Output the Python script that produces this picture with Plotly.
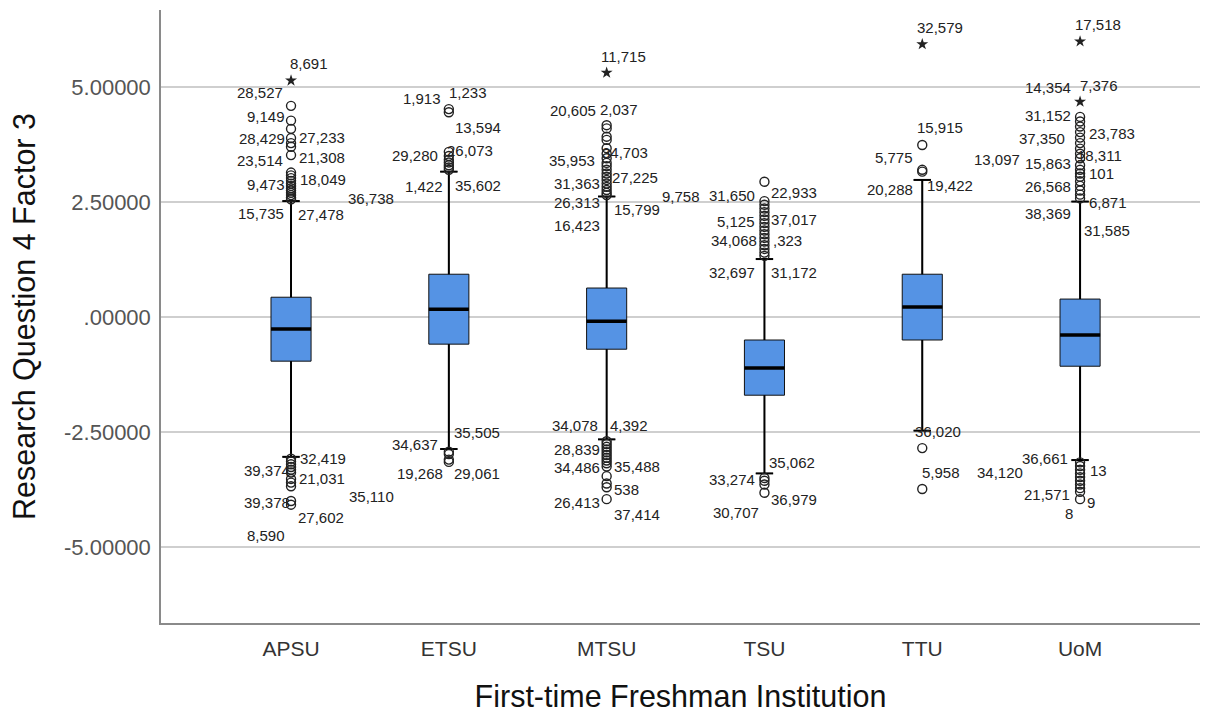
import plotly.graph_objects as go

# ---- data -------------------------------------------------------------
categories = ["APSU", "ETSU", "MTSU", "TSU", "TTU", "UoM"]

q1 = [-0.96, -0.59, -0.70, -1.70, -0.50, -1.07]
median = [-0.26, 0.17, -0.09, -1.11, 0.22, -0.39]
q3 = [0.43, 0.93, 0.63, -0.50, 0.93, 0.39]
lower_whisker = [-3.04, -2.87, -2.66, -3.40, -2.47, -3.11]
upper_whisker = [2.52, 3.16, 2.62, 1.26, 2.98, 2.51]

# outliers (circles) and extreme values (stars) per institution
outliers = [
    [4.59, 4.27, 4.09, 3.89, 3.78, 3.70, 3.52, 3.14, 3.08, 3.02, 2.96, 2.90,
     2.85, 2.80, 2.75, 2.70, 2.65, 2.60, 2.56,
     -3.08, -3.14, -3.20, -3.26, -3.32, -3.38, -3.52, -3.60, -3.68, -4.00, -4.08],
    [4.52, 4.45, 3.59, 3.50, 3.42, 3.36, 3.30, 3.25, 3.20,
     -2.93, -2.98, -3.10, -3.15],
    [4.17, 4.10, 3.92, 3.85, 3.67, 3.55, 3.45, 3.35, 3.28, 3.20, 3.12, 3.05,
     2.98, 2.90, 2.83, 2.76, 2.70, 2.65,
     -2.70, -2.76, -2.82, -2.88, -2.94, -3.00, -3.06, -3.12, -3.18, -3.25,
     -3.46, -3.62, -3.70, -3.96],
    [2.94, 2.52, 2.44, 2.36, 2.28, 2.20, 2.12, 2.04, 1.96, 1.88, 1.80, 1.72,
     1.64, 1.56, 1.48, 1.40, 1.33,
     -3.50, -3.56, -3.64, -3.82],
    [3.74, 3.20, 3.16, -2.85, -3.74],
    [4.35, 4.25, 4.14, 4.02, 3.90, 3.78, 3.66, 3.55, 3.45, 3.30, 3.20, 3.12,
     3.05, 2.95, 2.85, 2.75, 2.66, 2.58,
     -3.16, -3.24, -3.32, -3.40, -3.48, -3.56, -3.64, -3.72, -3.80, -3.96],
]
extremes = [[5.14], [], [5.31], [], [5.93], [5.99, 4.68]]

# case-number labels: (institution index, case id, value level, side, pixel offset)
case_labels = [
    (0, "8,691", 5.52, "L", -3), (0, "28,527", 4.87, "R", -6),
    (0, "9,149", 4.35, "R", -4), (0, "28,429", 3.89, "R", -4),
    (0, "27,233", 3.91, "L", 6), (0, "23,514", 3.41, "R", -6),
    (0, "21,308", 3.46, "L", 6), (0, "9,473", 2.89, "R", -4),
    (0, "18,049", 3.00, "L", 7), (0, "36,738", 2.57, "L", 55),
    (0, "15,735", 2.26, "R", -5), (0, "27,478", 2.22, "L", 5),
    (0, "32,419", -3.07, "L", 7), (0, "39,374", -3.33, "R", 1),
    (0, "21,031", -3.50, "L", 6), (0, "35,110", -3.91, "L", 56),
    (0, "39,378", -4.04, "R", 1), (0, "27,602", -4.35, "L", 5),
    (0, "8,590", -4.74, "R", -4),
    (1, "1,913", 4.76, "R", -6), (1, "1,233", 4.87, "L", -2),
    (1, "13,594", 4.13, "L", 4), (1, "29,280", 3.52, "R", -9),
    (1, "26,073", 3.61, "L", -4), (1, "1,422", 2.83, "R", -4),
    (1, "35,602", 2.85, "L", 4), (1, "34,637", -2.78, "R", -9),
    (1, "35,505", -2.50, "L", 3), (1, "19,268", -3.41, "R", -4),
    (1, "29,061", -3.41, "L", 3),
    (2, "11,715", 5.67, "L", -8), (2, "20,605", 4.50, "R", -9),
    (2, "2,037", 4.52, "L", -9), (2, "35,953", 3.41, "R", -10),
    (2, "34,703", 3.57, "L", -7), (2, "31,363", 2.91, "R", -5),
    (2, "27,225", 3.04, "L", 3), (2, "26,313", 2.48, "R", -5),
    (2, "9,758", 2.61, "L", 53), (2, "15,799", 2.33, "L", 5),
    (2, "16,423", 2.00, "R", -5), (2, "34,078", -2.35, "R", -7),
    (2, "4,392", -2.35, "L", 1), (2, "28,839", -2.89, "R", -5),
    (2, "34,486", -3.28, "R", -5), (2, "35,488", -3.26, "L", 5),
    (2, "538", -3.76, "L", 5), (2, "26,413", -4.04, "R", -5),
    (2, "37,414", -4.30, "L", 5),
    (3, "31,650", 2.65, "R", -7), (3, "22,933", 2.70, "L", 5),
    (3, "5,125", 2.07, "R", -7), (3, "37,017", 2.11, "L", 5),
    (3, "34,068", 1.67, "R", -5), (3, ",323", 1.67, "L", 7),
    (3, "32,697", 0.96, "R", -7), (3, "31,172", 0.96, "L", 5),
    (3, "35,062", -3.17, "L", 3), (3, "33,274", -3.54, "R", -7),
    (3, "36,979", -3.96, "L", 5), (3, "30,707", -4.26, "R", -3),
    (4, "32,579", 6.30, "L", -7), (4, "15,915", 4.11, "L", -7),
    (4, "5,775", 3.46, "R", -7), (4, "20,288", 2.78, "R", -7),
    (4, "19,422", 2.85, "L", 3), (4, "36,020", -2.48, "L", -9),
    (4, "5,958", -3.39, "L", -2),
    (5, "17,518", 6.35, "L", -7), (5, "14,354", 5.00, "R", -7),
    (5, "7,376", 5.04, "L", -2), (5, "31,152", 4.37, "R", -7),
    (5, "23,783", 4.00, "L", 7), (5, "37,350", 3.87, "R", -13),
    (5, "13,097", 3.43, "R", -58), (5, "18,311", 3.52, "L", -5),
    (5, "15,863", 3.33, "R", -7), (5, "101", 3.11, "L", 7),
    (5, "26,568", 2.83, "R", -7), (5, "6,871", 2.50, "L", 7),
    (5, "38,369", 2.26, "R", -7), (5, "31,585", 1.89, "L", 2),
    (5, "36,661", -3.07, "R", -10), (5, "13", -3.33, "L", 8),
    (5, "34,120", -3.39, "R", -55), (5, "21,571", -3.85, "R", -8),
    (5, "9", -4.04, "L", 5), (5, "8", -4.28, "C", -11),
]

y_tick_vals = [-5, -2.5, 0, 2.5, 5]
y_tick_text = ["-5.00000", "-2.50000", ".00000", "2.50000", "5.00000"]

# ---- style ------------------------------------------------------------
FONT = "Liberation Sans, Arial, sans-serif"
BOX_FILL = "#5593E4"
BOX_W = 0.254          # box width in category units
CAP_HALF = 0.055       # half-width of whisker caps
INK = "#222222"

fig = go.Figure()
positions = list(range(len(categories)))

for i, cat in enumerate(categories):
    fig.add_trace(go.Box(
        x=[i], q1=[q1[i]], median=[median[i]], q3=[q3[i]],
        lowerfence=[lower_whisker[i]], upperfence=[upper_whisker[i]],
        width=BOX_W, fillcolor=BOX_FILL, whiskerwidth=0.43,
        line=dict(color="#111111", width=1), boxpoints=False,
        name=cat, showlegend=False, hoverinfo="skip",
    ))

# heavier whiskers, caps and medians drawn over the boxes
for i in positions:
    for lo, hi in ((lower_whisker[i], q1[i]), (q3[i], upper_whisker[i])):
        fig.add_trace(go.Scatter(x=[i, i], y=[lo, hi], mode="lines",
                                 line=dict(color="black", width=2),
                                 showlegend=False, hoverinfo="skip"))
    for yv in (lower_whisker[i], upper_whisker[i]):
        fig.add_trace(go.Scatter(x=[i - CAP_HALF, i + CAP_HALF], y=[yv, yv],
                                 mode="lines", line=dict(color="black", width=2),
                                 showlegend=False, hoverinfo="skip"))
    fig.add_trace(go.Scatter(x=[i - BOX_W / 2, i + BOX_W / 2],
                             y=[median[i], median[i]], mode="lines",
                             line=dict(color="black", width=3.5),
                             showlegend=False, hoverinfo="skip"))

# outlier circles and extreme-value stars
ox, oy, ex, ey = [], [], [], []
for i in positions:
    ox += [i] * len(outliers[i]); oy += outliers[i]
    ex += [i] * len(extremes[i]); ey += extremes[i]
fig.add_trace(go.Scatter(x=ox, y=oy, mode="markers",
                         marker=dict(symbol="circle-open", size=9, color=INK,
                                     line=dict(color=INK, width=1.4)),
                         showlegend=False, hoverinfo="skip"))
fig.add_trace(go.Scatter(x=ex, y=ey, mode="markers",
                         marker=dict(symbol="star", size=9, color=INK,
                                     line=dict(width=0)),
                         showlegend=False, hoverinfo="skip"))

anchor = {"L": "left", "R": "right", "C": "center"}
for gi, text, yv, side, dx in case_labels:
    fig.add_annotation(x=gi, y=yv, xref="x", yref="y", text=text,
                       showarrow=False, xanchor=anchor[side], yanchor="middle",
                       xshift=dx, font=dict(family=FONT, size=15, color=INK))

fig.update_layout(
    width=1206, height=714,
    margin=dict(l=161, r=6, t=10, b=91),
    paper_bgcolor="white", plot_bgcolor="white",
    font=dict(family=FONT),
    xaxis=dict(
        range=[-0.824, 5.760], tickmode="array", tickvals=positions,
        ticktext=categories, showgrid=False, zeroline=False,
        showline=True, linecolor="#8a8a8a", linewidth=1.5,
        tickfont=dict(size=21, color="#333333"), ticklabelstandoff=6,
        title=dict(text="First-time Freshman Institution",
                   font=dict(size=30.5, color="#111111"), standoff=27),
    ),
    yaxis=dict(
        range=[-6.652, 6.674], tickmode="array", tickvals=y_tick_vals,
        ticktext=y_tick_text, showgrid=True, gridcolor="#cfcfcf", gridwidth=1.5,
        zeroline=False, showline=True, linecolor="#8a8a8a", linewidth=1.5,
        tickfont=dict(size=22, color="#555555"), ticklabelstandoff=4,
        title=dict(text="Research Question 4 Factor 3",
                   font=dict(size=30.5, color="#111111"), standoff=19),
    ),
)

fig.write_html("out.html")
